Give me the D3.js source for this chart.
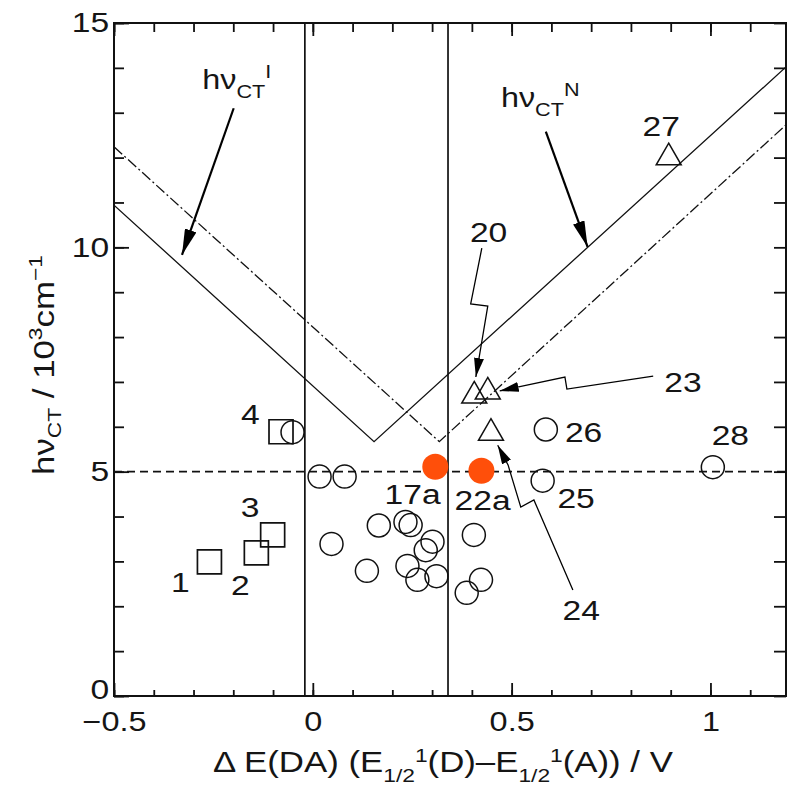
<!DOCTYPE html>
<html>
<head>
<meta charset="utf-8">
<script src="https://cdn.jsdelivr.net/npm/d3@7/dist/d3.min.js"></script>
<style>
  body { margin: 0; background: #fff; }
  svg text { font-family: "Liberation Sans", Arial, Helvetica, sans-serif; fill: #151515; }
</style>
</head>
<body>
<script>
// compounds 1-4 (squares)
let squareX = [-0.26, -0.142, -0.101, -0.08];
let squareY = [2.99, 3.19, 3.59, 5.89];

// open circles
let circleX = [0.166, 0.233, 0.246, 0.301, 0.284, 0.238, 0.263, 0.311, 0.136, 0.047,
               0.387, 0.423, 0.405, 0.017, 0.080, -0.051, 0.578, 0.586, 1.006];
let circleY = [3.80, 3.88, 3.81, 3.44, 3.25, 2.90, 2.59, 2.67, 2.79, 3.39,
               2.30, 2.59, 3.59, 4.89, 4.89, 5.88, 4.80, 5.94, 5.10];

// triangles 20, 23, 24, 27
let triX = [0.406, 0.44, 0.448, 0.895];
let triY = [6.69, 6.78, 5.86, 12.0];

// filled points 17a, 22a
let redX = [0.308, 0.424];
let redY = [5.11, 5.02];

// hv_CT lines
let solidX = [-0.5, 0.154, 1.19];
let solidY = [10.94, 5.67, 14.02];
let dashX = [-0.5, 0.318, 1.19];
let dashY = [12.24, 5.67, 12.73];

// reference lines
let vLines = [-0.02, 0.34];
let hLine = 5;

// ticks
let xMajor = [-0.5, 0, 0.5, 1];
let xMinor = d3.range(-5, 12).map(d => d / 10);
let yMajor = [0, 5, 10, 15];
let yMinor = d3.range(0, 16);

// compound numbers
let labelText = ['1', '2', '3', '4', '17a', '22a', '20', '23', '24', '25', '26', '27', '28'];
let labelX = [-0.333, -0.182, -0.158, -0.157, 0.251, 0.427, 0.442, 0.931, 0.675, 0.662, 0.681, 0.876, 1.05];
let labelY = [2.32, 2.25, 4.00, 6.06, 4.29, 4.15, 10.12, 6.78, 1.69, 4.18, 5.67, 12.48, 5.59];

// hv_CT labels and their arrows
let hvSup = ['I', 'N'];
let hvX = [-0.278, 0.473];
let hvY = [13.53, 13.13];
let bigArrows = [
  [[-0.199, 13.10], [-0.329, 9.83]],
  [[0.586, 12.58], [0.691, 10.01]]
];
let smallArrows = [
  [[0.425, 9.98], [0.397, 8.74], [0.440, 8.69], [0.410, 7.11]],
  [[0.856, 7.13], [0.639, 6.84], [0.634, 7.11], [0.470, 6.80]],
  [[0.654, 2.36], [0.556, 4.37], [0.523, 4.21], [0.491, 5.15], [0.465, 5.59]]
];

let w = 787;
let h = 795;
let mLeft = 114, mRight = 786, mTop = 23, mBottom = 696;
let stretch = 1.2; // the figure's font is wide

let svg = d3.select('body').append('svg')
  .attr('width', w)
  .attr('height', h);

let x = d3.scaleLinear().domain([-0.5, 1.19]).range([mLeft, mRight]);
let y = d3.scaleLinear().domain([0, 15]).range([mBottom, mTop]);

let defs = svg.append('defs');
defs.append('clipPath').attr('id', 'plot')
  .append('rect')
  .attr('x', mLeft).attr('y', mTop)
  .attr('width', mRight - mLeft).attr('height', mBottom - mTop);

const marker = (id, len, wid) => {
  defs.append('marker')
    .attr('id', id)
    .attr('viewBox', '0 0 10 10')
    .attr('preserveAspectRatio', 'none')
    .attr('refX', 10).attr('refY', 5)
    .attr('markerWidth', len).attr('markerHeight', wid)
    .attr('markerUnits', 'userSpaceOnUse')
    .attr('orient', 'auto')
    .append('path')
    .attr('d', 'M0,0L10,5L0,10z')
    .attr('fill', '#000');
};
marker('big', 26, 12);
marker('small', 19, 10);

// axes (ticks point inward)
const axis = (gen, tx, ty, vals, size, labels) => {
  let g = svg.append('g')
    .attr('transform', `translate(${tx},${ty})`)
    .call(gen.tickValues(vals).tickSize(-size).tickSizeOuter(0)
      .tickFormat(labels ? d3.format('~g') : ''));
  g.select('.domain').remove();
  g.selectAll('line').attr('stroke', '#111').attr('stroke-width', 1.8);
  return g;
};

axis(d3.axisLeft(y), mLeft, 0, yMinor, 10, false);
let yAx = axis(d3.axisLeft(y).tickPadding(4), mLeft, 0, yMajor, 15, true)
  .attr('font-size', 28)
  .attr('font-family', null);
yAx.selectAll('text').attr('transform', `scale(${stretch},1)`);
// the "0" sits a bit higher, just clear of "-0.5"
yAx.selectAll('text').filter(d => d === 0).attr('dy', '0.1em');
axis(d3.axisRight(y), mRight, 0, yMinor, 12, false);
axis(d3.axisBottom(x), 0, mBottom, xMinor, 6, false);
axis(d3.axisBottom(x).tickPadding(16), 0, mBottom, xMajor, 13, true)
  .attr('font-size', 27)
  .attr('font-family', null)
  .selectAll('text').attr('transform', `scale(${stretch},1)`);
axis(d3.axisTop(x), 0, mTop, xMinor, 9, false);
axis(d3.axisTop(x), 0, mTop, xMajor, 13, false);

let plot = svg.append('g').attr('clip-path', 'url(#plot)');

// reference lines
plot.selectAll('.vline')
  .data(vLines)
  .enter()
    .append('line')
    .attr('x1', d => x(d)).attr('x2', d => x(d))
    .attr('y1', mTop).attr('y2', mBottom)
    .attr('stroke', '#111')
    .attr('stroke-width', 1.7);

plot.append('line')
  .attr('x1', mLeft).attr('x2', mRight)
  .attr('y1', y(hLine)).attr('y2', y(hLine))
  .attr('stroke', '#111')
  .attr('stroke-width', 1.6)
  .attr('stroke-dasharray', '8,5');

// hv_CT lines
let line = d3.line().x(d => x(d[0])).y(d => y(d[1]));
plot.append('path')
  .attr('d', line(d3.zip(solidX, solidY)))
  .attr('fill', 'none')
  .attr('stroke', '#111')
  .attr('stroke-width', 1.3);
plot.append('path')
  .attr('d', line(d3.zip(dashX, dashY)))
  .attr('fill', 'none')
  .attr('stroke', '#111')
  .attr('stroke-width', 1.3)
  .attr('stroke-dasharray', '11,3,2,3');

// markers
plot.selectAll('.circ')
  .data(d3.zip(circleX, circleY))
  .enter()
    .append('circle')
    .attr('cx', d => x(d[0]))
    .attr('cy', d => y(d[1]))
    .attr('r', 11.5)
    .attr('fill', 'none')
    .attr('stroke', '#111')
    .attr('stroke-width', 1.5);

plot.selectAll('.sq')
  .data(d3.zip(squareX, squareY))
  .enter()
    .append('path')
    .attr('transform', d => `translate(${x(d[0])},${y(d[1])})`)
    .attr('d', d3.symbol(d3.symbolSquare, 24 * 24))
    .attr('fill', 'none')
    .attr('stroke', '#111')
    .attr('stroke-width', 1.7);

plot.selectAll('.tri')
  .data(d3.zip(triX, triY))
  .enter()
    .append('path')
    .attr('transform', d => `translate(${x(d[0])},${y(d[1])})`)
    .attr('d', d3.symbol(d3.symbolTriangle, 270))
    .attr('fill', 'none')
    .attr('stroke', '#111')
    .attr('stroke-width', 1.5);

plot.selectAll('.red')
  .data(d3.zip(redX, redY))
  .enter()
    .append('circle')
    .attr('cx', d => x(d[0]))
    .attr('cy', d => y(d[1]))
    .attr('r', 13)
    .attr('fill', '#ff4f0a');

// arrows
svg.selectAll('.big-arrow')
  .data(bigArrows)
  .enter()
    .append('path')
    .attr('d', d => line(d))
    .attr('fill', 'none')
    .attr('stroke', '#000')
    .attr('stroke-width', 2.2)
    .attr('marker-end', 'url(#big)');

svg.selectAll('.small-arrow')
  .data(smallArrows)
  .enter()
    .append('path')
    .attr('d', d => line(d))
    .attr('fill', 'none')
    .attr('stroke', '#000')
    .attr('stroke-width', 1.3)
    .attr('marker-end', 'url(#small)');

// compound numbers
svg.selectAll('.num')
  .data(labelText)
  .enter()
    .append('text')
    .attr('transform', (d, i) => `translate(${x(labelX[i])},${y(labelY[i])}) scale(${stretch},1)`)
    .attr('text-anchor', 'middle')
    .attr('font-size', 28)
    .text(d => d);

// hv_CT^I and hv_CT^N
hvSup.forEach((s, i) => {
  let t = svg.append('text')
    .attr('transform', `translate(${x(hvX[i])},${y(hvY[i])}) scale(${stretch},1)`)
    .attr('font-size', 27);
  t.append('tspan').text('hν');
  t.append('tspan').attr('font-size', 18).attr('dy', 9).text('CT');
  t.append('tspan').attr('font-size', 18).attr('dy', -20).text(s);
});

// axis titles
let yt = svg.append('text')
  .attr('transform', `translate(54,365) rotate(-90) scale(${stretch},1)`)
  .attr('text-anchor', 'middle')
  .attr('font-size', 29);
yt.append('tspan').text('hν');
yt.append('tspan').attr('font-size', 19).attr('dy', 7).text('CT');
yt.append('tspan').attr('dy', -7).text(' / 10');
yt.append('tspan').attr('font-size', 19).attr('dy', -12).text('3');
yt.append('tspan').attr('dy', 12).text('cm');
yt.append('tspan').attr('font-size', 19).attr('dy', -12).text('−1');

let xt = svg.append('text')
  .attr('transform', `translate(443,772) scale(${stretch},1)`)
  .attr('text-anchor', 'middle')
  .attr('font-size', 29);
xt.append('tspan').text('Δ E(DA) (E');
xt.append('tspan').attr('font-size', 19).attr('dy', 10).text('1/2');
xt.append('tspan').attr('font-size', 19).attr('dy', -20).text('1');
xt.append('tspan').attr('dy', 10).text('(D)–E');
xt.append('tspan').attr('font-size', 19).attr('dy', 10).text('1/2');
xt.append('tspan').attr('font-size', 19).attr('dy', -20).text('1');
xt.append('tspan').attr('dy', 10).text('(A)) / V');

// frame
svg.append('rect')
  .attr('x', mLeft).attr('y', mTop)
  .attr('width', mRight - mLeft).attr('height', mBottom - mTop)
  .attr('fill', 'none')
  .attr('stroke', '#111')
  .attr('stroke-width', 2);
</script>
</body>
</html>
